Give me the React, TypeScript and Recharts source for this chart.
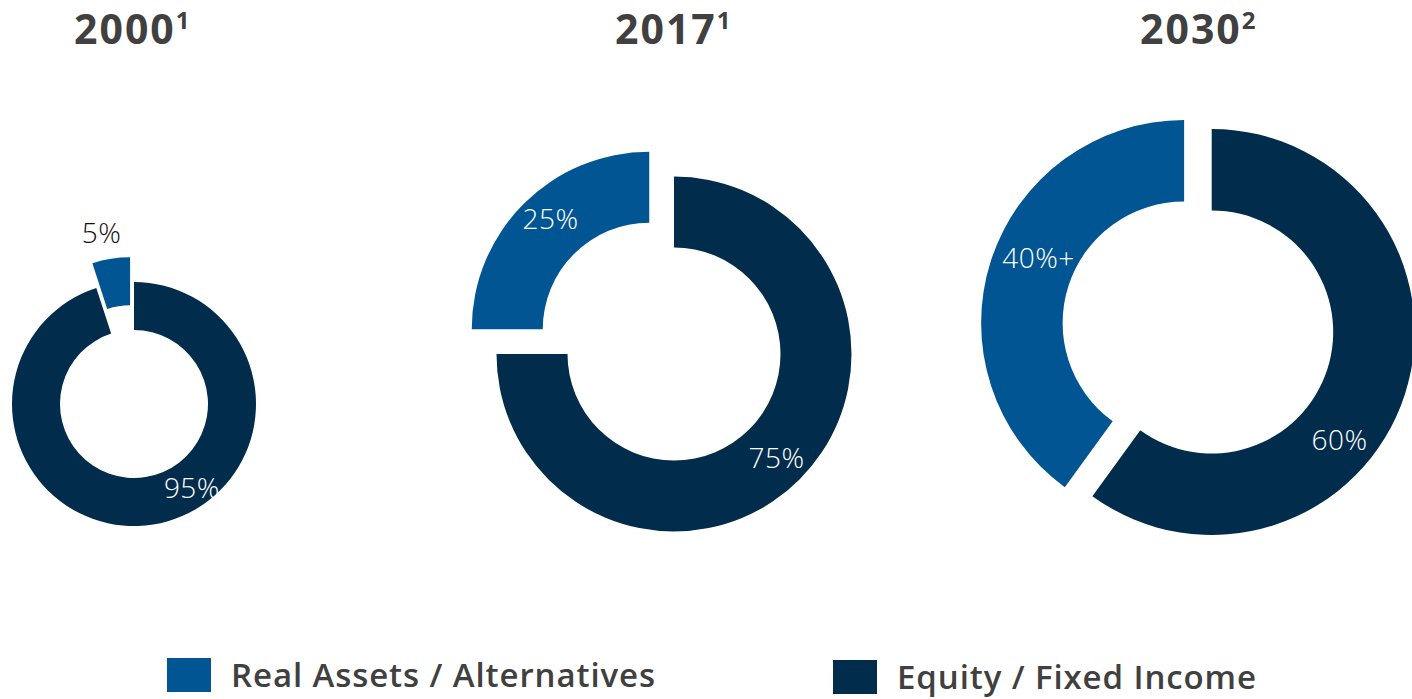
import { PieChart, Pie, Cell } from "recharts"

const years = ["2000", "2017", "2030"]
const yearNotes = ["1", "1", "2"]
const realAssets = [5, 25, 40]
const equityFixedIncome = [95, 75, 60]
const realLabels = ["5%", "25%", "40%+"]
const equityLabels = ["95%", "75%", "60%"]
const seriesNames = ["Real Assets / Alternatives", "Equity / Fixed Income"]

const W = 1412
const H = 699
const REAL = "#005592"
const EQUITY = "#012c4b"
const TEXT = "#404040"
const FONT = "'Open Sans', Lato, sans-serif"

// per-donut layout (px)
const layout = [
  { cx: 134, cy: 404, inner: 74, outer: 122, explode: 25, titleX: 74, eqLabel: [-55, 101], realLabel: [101, 150], realInside: false },
  { cx: 674, cy: 354, inner: 106.5, outer: 177.5, explode: 35, titleX: 615, eqLabel: [-45, 145], realLabel: [131.5, 149], realInside: true },
  { cx: 1211.7, cy: 332, inner: 121.5, outer: 203, explode: 29, titleX: 1140, eqLabel: [-40, 167], realLabel: [155.5, 160], realInside: true },
]

const RAD = Math.PI / 180

function polar(cx: number, cy: number, angle: number, r: number) {
  return { x: cx + r * Math.cos(angle * RAD), y: cy - r * Math.sin(angle * RAD) }
}

export default function App() {
  return (
    <div style={{ position: "absolute", left: 0, top: 0, width: W, height: H, background: "#fff", overflow: "hidden" }}>
      <PieChart width={W} height={H} margin={{ top: 0, right: 0, bottom: 0, left: 0 }}>
        {years.map((year, i) => {
          const L = layout[i]
          const data = [
            { name: seriesNames[1], value: equityFixedIncome[i] },
            { name: seriesNames[0], value: realAssets[i] },
          ]
          const total = realAssets[i] + equityFixedIncome[i]
          // real-assets slice is pulled out along its mid angle
          const mid = -270 + (180 * realAssets[i]) / total
          const ox = L.explode * Math.cos(mid * RAD)
          const oy = -L.explode * Math.sin(mid * RAD)

          const eqLabel = (p: any) => {
            if (p.index !== 0) return null
            const pt = polar(p.cx, p.cy, L.eqLabel[0], L.eqLabel[1])
            return (
              <text x={pt.x} y={pt.y} fill="#fff" fontSize={28} fontWeight={300} letterSpacing={0.5} fontFamily={FONT} textAnchor="middle" dominantBaseline="central">
                {equityLabels[i]}
              </text>
            )
          }
          const realLabel = (p: any) => {
            if (p.index !== 1) return null
            const pt = polar(p.cx, p.cy, L.realLabel[0], L.realLabel[1])
            return (
              <text x={pt.x} y={pt.y} fill={L.realInside ? "#fff" : "#111"} fontSize={28} fontWeight={300} letterSpacing={0.5} fontFamily={FONT} textAnchor="middle" dominantBaseline="central">
                {realLabels[i]}
              </text>
            )
          }

          return [
            <Pie
              key={year + "-eq"}
              data={data}
              dataKey="value"
              cx={L.cx}
              cy={L.cy}
              innerRadius={L.inner}
              outerRadius={L.outer}
              startAngle={90}
              endAngle={-270}
              stroke="none"
              label={eqLabel}
              labelLine={false}
              isAnimationActive={false}
            >
              <Cell fill={EQUITY} />
              <Cell fill="transparent" />
            </Pie>,
            <Pie
              key={year + "-real"}
              data={data}
              dataKey="value"
              cx={L.cx + ox}
              cy={L.cy + oy}
              innerRadius={L.inner}
              outerRadius={L.outer}
              startAngle={90}
              endAngle={-270}
              stroke="none"
              label={realLabel}
              labelLine={false}
              isAnimationActive={false}
            >
              <Cell fill="transparent" />
              <Cell fill={REAL} />
            </Pie>,
          ]
        })}
      </PieChart>

      {years.map((year, i) => (
        <div
          key={year}
          style={{
            position: "absolute",
            left: layout[i].titleX,
            top: 2,
            fontFamily: FONT,
            fontWeight: 700,
            fontSize: 41,
            lineHeight: "52px",
            color: TEXT,
            whiteSpace: "nowrap",
            letterSpacing: 2,
          }}
        >
          {year}
          <span style={{ fontSize: 24, position: "relative", top: -15, letterSpacing: 0 }}>{yearNotes[i]}</span>
        </div>
      ))}

      {seriesNames.map((name, i) => (
        <div
          key={name}
          style={{
            position: "absolute",
            left: i === 0 ? 167 : 833,
            top: i === 0 ? 658 : 660,
            display: "flex",
            alignItems: "center",
            fontFamily: FONT,
            fontWeight: 600,
            fontSize: 33,
            letterSpacing: 0.9,
            color: TEXT,
            whiteSpace: "nowrap",
          }}
        >
          <span style={{ display: "inline-block", width: 44, height: 34, background: i === 0 ? REAL : EQUITY, marginRight: 20 }} />
          <span style={{ lineHeight: "32px" }}>{name}</span>
        </div>
      ))}
    </div>
  )
}
